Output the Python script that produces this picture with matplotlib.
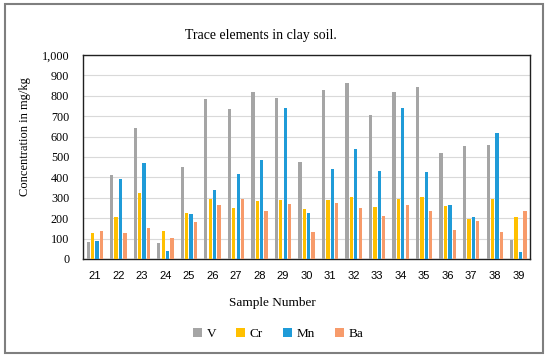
import matplotlib
matplotlib.use("Agg")
import matplotlib.pyplot as plt
import numpy as np
from matplotlib.patches import Rectangle
from matplotlib.ticker import FuncFormatter

samples = ["21", "22", "23", "24", "25", "26", "27", "28", "29", "30",
           "31", "32", "33", "34", "35", "36", "37", "38", "39"]
V  = [82, 413, 642, 77, 451, 786, 734, 819, 788, 475, 827, 863, 704, 817, 842, 518, 555, 559, 95]
Cr = [125, 205, 323, 136, 225, 292, 248, 284, 287, 246, 287, 305, 254, 293, 302, 261, 198, 293, 205]
Mn = [90, 393, 469, 41, 221, 336, 418, 487, 738, 225, 439, 538, 433, 742, 428, 267, 208, 616, 33]
Ba = [138, 128, 154, 102, 179, 267, 292, 236, 269, 134, 275, 248, 210, 267, 234, 141, 185, 131, 233]

series = [("V", V, "#A5A5A5"), ("Cr", Cr, "#FFC000"), ("Mn", Mn, "#1F9BD8"), ("Ba", Ba, "#F79B6B")]

serif = "Liberation Serif"
sans = "Liberation Sans"

fig = plt.figure(figsize=(5.5, 3.59), dpi=100)
ax = fig.add_axes([0.151, 0.2786, 0.8127, 0.5682])

x = np.arange(len(samples))
w = 0.14
step = 0.187
for i, (name, vals, col) in enumerate(series):
    ax.bar(x + (i - 1.5) * step, vals, width=w, color=col, label=name, zorder=3)

ax.set_xlim(-0.5, len(samples) - 0.5)
ax.set_ylim(0, 1000)
ax.set_yticks(np.arange(0, 1001, 100))
ax.yaxis.set_major_formatter(FuncFormatter(lambda v, p: f"{int(v):,}"))
ax.set_xticks(x)
ax.set_xticklabels(samples, fontfamily=sans, fontsize=8)
for t in ax.get_yticklabels():
    t.set_fontfamily(serif)
    t.set_fontsize(8.7)
ax.tick_params(axis="x", length=0, pad=9)
ax.tick_params(axis="y", length=0, pad=10)
ax.grid(axis="y", color="#D9D9D9", linewidth=0.8, zorder=0)
for s in ax.spines.values():
    s.set_color("#202020")
    s.set_linewidth(1.0)

fig.text(25/550, 1 - 137/359, "Concentration in mg/kg", ha="center", va="center",
         rotation=90, fontfamily=serif, fontsize=9)
fig.text(272/550, 1 - 303/359, "Sample Number", ha="center", va="center",
         fontfamily=serif, fontsize=9.5)
fig.text(261/550, 1 - 36/359, "Trace elements in clay soil.", ha="center", va="center",
         fontfamily=serif, fontsize=10)

leg = fig.legend(loc="center", bbox_to_anchor=(278/550, 1 - 334/359), ncol=4,
                 frameon=False, handlelength=0.7, handleheight=0.7, handletextpad=0.35,
                 columnspacing=1.5, prop={"family": serif, "size": 9.5})

fig.patches.append(Rectangle((5/550, 1 - 353/359), 538/550, 349/359,
                             transform=fig.transFigure, fill=False,
                             edgecolor="#7F7F7F", linewidth=1.5))

fig.savefig("out.png", dpi=100)
